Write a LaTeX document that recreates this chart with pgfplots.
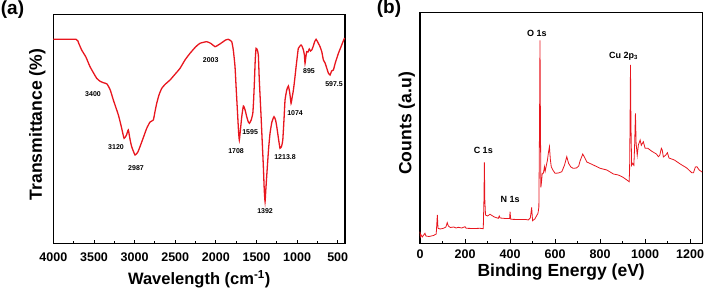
\documentclass[border=0pt]{standalone}
\usepackage{fontspec}
\setmainfont{Liberation Sans}
\usepackage{pgfplots}
\pgfplotsset{compat=1.18}
\definecolor{cred}{RGB}{232,22,30}
\begin{document}
\begin{tikzpicture}[x=1pt,y=1pt]
\useasboundingbox (0,0) rectangle (707,292);
\node[font=\fontsize{19}{20}\selectfont\bfseries] at (12.5,282) {(a)};
\node[font=\fontsize{19}{20}\selectfont\bfseries] at (389,283) {(b)};
\begin{axis}[
  at={(53.4pt,48.5pt)}, anchor=south west,
  width=291.6pt, height=228.8pt, scale only axis,
  x dir=reverse, xmin=410, xmax=4000, ymin=0, ymax=228.8,
  xtick={500,1000,...,4000}, minor x tick num=1,
  ytick=\empty, xtick pos=bottom, tick align=inside,
  major tick length=4pt, minor tick length=2.5pt,
  axis line style={line width=1.2pt}, every tick/.style={black,line width=0.9pt},
  /pgf/number format/assume math mode=true,
  /pgf/number format/1000 sep={},
  xticklabel style={font=\fontsize{12.5}{13}\selectfont\bfseries, anchor=center, yshift=-13.5pt},
  xlabel={Wavelength (cm\textsuperscript{-1})},
  ylabel={Transmittance (\%)},
  every axis x label/.style={at={(axis description cs:0.5,-0.157)},anchor=center,font=\fontsize{16.5}{17}\selectfont\bfseries},
  every axis y label/.style={at={(axis description cs:-0.055,0.52)},rotate=90,anchor=center,font=\fontsize{17.6}{18}\selectfont\bfseries},
  clip=false,
]
\addplot[cred, line width=1.3pt, smooth, tension=0.3] coordinates {
(4000,204.2)(3722,204.2)(3690,200.5)(3652,193.5)(3600,186.5)(3549,176.8)(3467,165.2)
(3420,162)(3385,160.8)(3340,159.5)(3300,153.5)(3262,143.5)(3200,128.5)(3160,115.5)
(3130,105.2)(3100,108.5)(3078,113.5)(3055,103.5)(3036,96.8)(2995,88.5)(2960,91.5)
(2934,96.8)(2890,106.5)(2851,115.2)(2810,121.5)(2770,123.5)(2750,131.5)(2728,140.2)
(2700,148.5)(2666,155.2)(2620,159.5)(2564,163.5)(2500,169.5)(2441,175.2)(2380,183.5)
(2318,190.2)(2250,196.5)(2195,200.2)(2112,201.8)(2060,200)(2010,196.8)(1970,198.5)
(1927,200.8)(1880,203.5)(1846,204.2)(1820,203)(1804,201.8)(1785,193.5)(1764,176.8)
(1750,155.5)(1735,133.5)(1720,111.5)(1711,103.5)(1700,111.5)(1681,126.8)(1661,137.5)
(1640,133.5)(1620,126.8)(1600,121.5)(1587,120.2)(1565,123.5)(1545,130.2)(1535,143.5)
(1526,160.2)(1515,183.5)(1505,195.2)(1490,193.5)(1477,188.5)(1465,163.5)(1443,126.8)
(1430,103.5)(1415,76.8)(1404,53.5)(1394,41.8)(1385,53.5)(1366,76.8)(1350,95.5)
(1333,110.2)(1310,121.5)(1284,126.8)(1265,123.5)(1250,116.8)(1230,105.5)(1210,95.2)
(1190,97.5)(1176,103.5)(1160,125.5)(1148,143.5)(1127,153.5)(1107,157.5)(1090,150.5)
(1074,140.2)(1060,146.5)(1045,153.5)(1030,163.5)(1012,176.8)(995,188.5)(984,195.2)
(951,198.5)(935,196.5)(922,193.5)(910,188.5)(902,180.2)(892,186.5)(881,191.8)
(865,191.5)(850,194.5)(835,192.5)(819,193.5)(800,197.5)(785,201.5)(766,204.2)
(740,200.5)(717,196.8)(695,191.5)(676,183.5)(655,180.5)(635,175.5)(615,170.5)
(594,168.5)(575,172.5)(553,173.5)(530,180.5)(510,185.5)(491,190.2)(460,196.5)
(430,202.8)(415,205.5)
};
\begin{scope}[every node/.style={font=\fontsize{7}{8}\selectfont\bfseries}]
\node at (axis cs:3512,149.5) {3400};
\node at (axis cs:3229,96.5) {3120};
\node at (axis cs:2983,75.5) {2987};
\node at (axis cs:2063,183.5) {2003};
\node at (axis cs:1751,92.5) {1708};
\node at (axis cs:1578,111.5) {1595};
\node at (axis cs:1394,32.5) {1392};
\node at (axis cs:1148,86.5) {1213.8};
\node at (axis cs:1025,130.5) {1074};
\node at (axis cs:853,172.5) {895};
\node at (axis cs:545,159.5) {597.5};
\end{scope}
\end{axis}
\begin{axis}[
  at={(420pt,48.7pt)}, anchor=south west,
  width=282.3pt, height=230.6pt, scale only axis,
  xmin=0, xmax=1254, ymin=0, ymax=230.6,
  xtick={0,200,...,1200}, minor x tick num=1,
  ytick=\empty, xtick pos=bottom, tick align=inside,
  major tick length=4pt, minor tick length=2.5pt,
  axis line style={line width=1.2pt}, every tick/.style={black,line width=0.9pt},
  /pgf/number format/assume math mode=true,
  /pgf/number format/1000 sep={},
  xticklabel style={font=\fontsize{12.5}{13}\selectfont\bfseries, anchor=center, yshift=-10.7pt},
  xlabel={Binding Energy (eV)},
  ylabel={Counts (a.u)},
  every axis x label/.style={at={(axis description cs:0.5,-0.125)},anchor=center,font=\fontsize{17.5}{18}\selectfont\bfseries},
  every axis y label/.style={at={(axis description cs:-0.047,0.52)},rotate=90,anchor=center,font=\fontsize{17.6}{18}\selectfont\bfseries},
  clip=false,
]
\addplot[cred, line width=0.8pt] coordinates {
(0,11.6)(2,6.6)(5,8.3)(10,6.3)(22,10)(26,7.3)(40,6.8)(60,7.8)(72,9.3)(77,28.3)
(80,15)(90,14.3)(104,15)(115,16.3)(121,20.6)(126,17.3)(135,15.8)(150,16.3)(160,15.3)
(170,16)(185,15.3)(200,16.6)(205,15)(240,14.8)(267,15)(281,14.6)(284,43.3)(286,81)
(288,43.3)(291,28.3)(300,27.3)(311,29)(330,26.3)(348,25)(352,27.3)(356,25.3)(380,24.8)
(398,24.8)(400,31.6)(403,24)(440,23.8)(470,23.8)(481,23.3)(490,25.3)(496,36)(500,22.6)
(510,24.3)(524,30)(528,36)(531,120)(533,203)(535,120)(537,56)(540,62)(543,70)(548,70)
(553,76.6)(556,72)(560,76.6)(566,83)(570,90)(575,96.6)(579,84)(583,76.6)(590,73.3)
(600,70)(615,70.3)(630,71.6)(642,78.3)(652,86.6)(660,80)(670,76.3)(680,75)(695,75.3)
(705,77.3)(711,82.3)(723,89.3)(730,86.3)(741,81.3)(770,78.3)(800,75)(830,73.3)(859,69.3)
(881,68.3)(900,66.3)(919,63.3)(929,61.6)(931,73)(933,120)(935,178.3)(937,120)(940,78)
(945,80)(950,78)(953,95)(957,130)(960,100)(965,88)(970,98.3)(978,103.3)(983,98)
(992,101.6)(1000,95)(1012,95)(1030,92)(1050,89.3)(1059,86.6)(1065,88)(1072,95)(1076,93.3)
(1081,86.3)(1092,88.3)(1099,90.6)(1106,85.3)(1130,83.3)(1156,79.3)(1185,75.3)(1207,70.6)
(1215,70.6)(1223,76.3)(1230,76.6)(1240,73.3)(1253,71.3)
};
\begin{scope}[every node/.style={font=\fontsize{9}{10}\selectfont\bfseries}]
\node at (axis cs:519,210) {O 1s};
\node at (axis cs:904,186.6) {Cu 2p\textsubscript{3}};
\node at (axis cs:281,92.6) {C 1s};
\node at (axis cs:400,44) {N 1s};
\end{scope}
\end{axis}
\end{tikzpicture}
\end{document}
